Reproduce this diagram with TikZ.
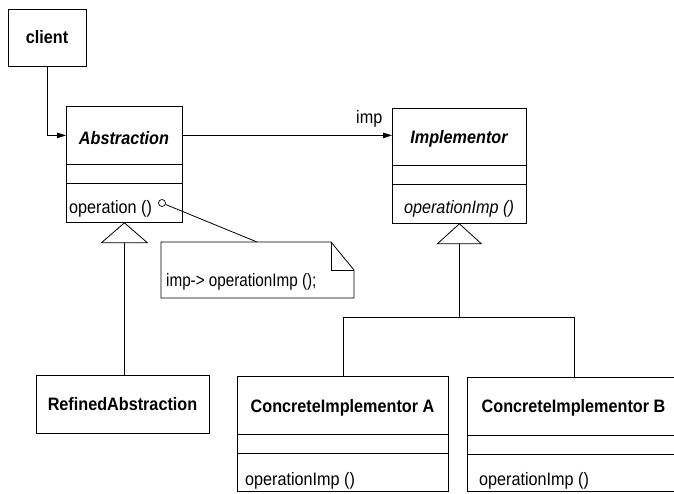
\documentclass[tikz,border=0pt]{standalone}
\usepackage{fontspec}
\usepackage{graphicx}
\setmainfont{Liberation Sans}[FakeStretch=0.9]
\usetikzlibrary{arrows.meta}
\begin{document}
\begin{tikzpicture}[x=1pt,y=-1pt,
  comp/.style={draw, line width=0.8pt, rectangle, inner sep=0, anchor=north west},
  reg/.style={inner sep=0, font=\fontsize{18}{21}\selectfont},
  itl/.style={inner sep=0, font=\fontsize{18}{21}\selectfont\itshape},
  bld/.style={inner sep=0, font=\fontsize{18}{21}\selectfont\bfseries},
  bit/.style={inner sep=0, font=\fontsize{18}{21}\selectfont\bfseries\itshape},
  conn/.style={line width=0.8pt},
  arr/.style={conn, -{Triangle[length=9pt,width=5.5pt]}}]
\useasboundingbox (0,0) rectangle (674,493);

% client
\node[comp, minimum width=78pt, minimum height=57pt] (client) at (8,9) {};
\node[bld, anchor=base] (clienttxt) at (47,43) {client};

% Abstraction
\node[comp, minimum width=116pt, minimum height=58pt] (abst) at (66,106) {};
\node[comp, minimum width=116pt, minimum height=19pt] (absa) at (66,164) {};
\node[comp, minimum width=116pt, minimum height=39pt] (abso) at (66,183) {};
\node[bit, anchor=base] (abstxt) at (124,144) {Abstraction};
\node[reg, anchor=base west] (absop) at (69,213) {operation ()};

% Implementor
\node[comp, minimum width=134pt, minimum height=57pt] (impt) at (392,108) {};
\node[comp, minimum width=134pt, minimum height=19pt] (impa) at (392,165) {};
\node[comp, minimum width=134pt, minimum height=39pt] (impo) at (392,184) {};
\node[bit, anchor=base] (imptxt) at (459,143) {Implementor};
\node[itl, anchor=base] (impop) at (459,213) {operationImp ()};

% RefinedAbstraction
\node[comp, minimum width=173pt, minimum height=58pt] (ref) at (36,375) {};
\node[bld, anchor=base] (reftxt) at (122.5,410) {RefinedAbstraction};

% ConcreteImplementor A
\node[comp, minimum width=211pt, minimum height=58pt] (cat) at (237,376) {};
\node[comp, minimum width=211pt, minimum height=19pt] (caa) at (237,434) {};
\node[comp, minimum width=211pt, minimum height=38pt] (cao) at (237,453) {};
\node[bld, anchor=base] (catxt) at (342.5,412) {ConcreteImplementor A};
\node[reg, anchor=base west] (caop) at (245,485) {operationImp ()};

% ConcreteImplementor B
\node[comp, minimum width=213pt, minimum height=58pt] (cbt) at (467,377) {};
\node[comp, minimum width=213pt, minimum height=19pt] (cba) at (467,435) {};
\node[comp, minimum width=213pt, minimum height=37pt] (cbo) at (467,454) {};
\node[bld, anchor=base] (cbtxt) at (573.5,412) {ConcreteImplementor B};
\node[reg, anchor=base west] (cbop) at (479,485) {operationImp ()};

% client -> Abstraction
\draw[arr] (client.south) |- (abst.west);
% Abstraction -> Implementor
\draw[arr] (abst.east) -- (abst.east -| impt.west);
\node[reg, anchor=base west] (implbl) at (356,123) {imp};

% generalization Abstraction
\draw[conn] (abso.south) -- ++(-23,20) -- ++(46,0) -- cycle;
\coordinate (absbase) at ([yshift=-20pt]abso.south);
\draw[conn] (absbase) -- (absbase |- ref.north);

% generalization Implementor
\draw[conn] (impo.south) -- ++(-22,20) -- ++(44,0) -- cycle;
\coordinate (impbase) at ([yshift=-20pt]impo.south);
\coordinate (bus) at ([yshift=-94pt]impo.south);
\draw[conn] (impbase) -- (bus);
\draw[conn] (cat.north) |- (bus) -| (cbt.north);

% note
\draw[conn] (161,242) -- (331,242) -- (354,270) -- (354,298) -- (161,298) -- cycle;
\draw[conn] (331,242) -- (331,270) -- (354,270);
\node[reg, anchor=base west] (notetxt) at (166,286) {\scalebox{0.94}[1]{imp-> operationImp ();}};
\node[circle, draw, line width=0.7pt, inner sep=0, minimum size=7pt] (dot) at (162,203) {};
\coordinate (notetop) at (257,242);
\draw[conn] (dot) -- (notetop);
\end{tikzpicture}
\end{document}
